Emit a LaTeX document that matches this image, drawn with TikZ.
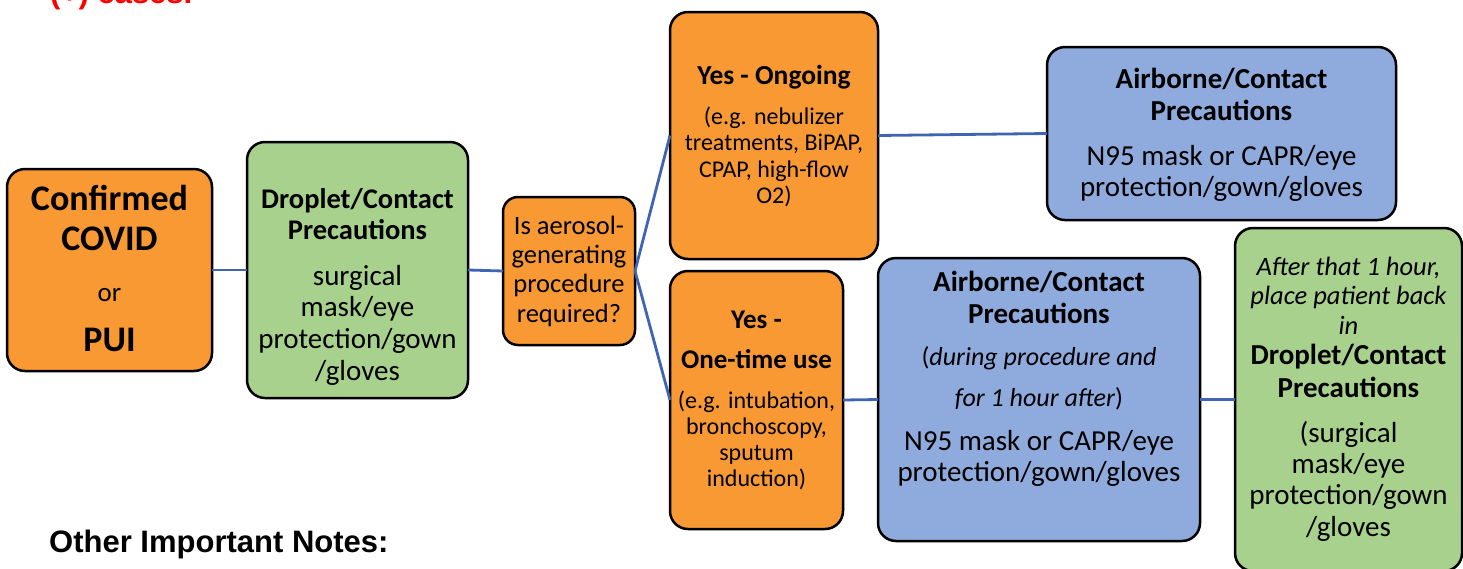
\documentclass[tikz,border=0pt]{standalone}
\usepackage{fontspec}
\setmainfont{Carlito}
\newfontfamily\arialfont{Liberation Sans}
\definecolor{boxorange}{RGB}{248,153,52}
\definecolor{boxgreen}{RGB}{169,209,142}
\definecolor{boxblue}{RGB}{143,170,220}
\definecolor{linkblue}{RGB}{64,100,180}
\definecolor{notered}{RGB}{255,0,0}
\newcommand\boxtext[3]{\fontsize{#1}{#2}\selectfont\begin{tabular}[t]{@{}c@{}}#3\end{tabular}}
\tikzset{
  box/.style={draw=black, line width=2.5pt, rounded corners=18pt, inner sep=0pt, outer sep=0pt},
  orangebox/.style={box, fill=boxorange},
  greenbox/.style={box, fill=boxgreen},
  bluebox/.style={box, fill=boxblue},
  txt/.style={anchor=base, inner sep=0pt, outer sep=0pt},
  link/.style={draw=linkblue, line width=2.8pt},
}
\begin{document}
\begin{tikzpicture}[x=1pt, y=-1pt]
\useasboundingbox (0,0) rectangle (1463,568);
\clip (0,0) rectangle (1463,568);
% boxes
\node[orangebox, minimum width=205pt, minimum height=202pt] (b1) at (109.5,270) {};
\node[greenbox, minimum width=221pt, minimum height=256pt] (b2) at (357.5,270) {};
\node[orangebox, rounded corners=15pt, minimum width=132pt, minimum height=148pt] (q) at (569,271) {};
\node[orangebox, minimum width=208pt, minimum height=247pt] (yo) at (774,135.5) {};
\node[orangebox, minimum width=173pt, minimum height=258pt] (yt) at (756.5,400) {};
\node[bluebox, minimum width=349pt, minimum height=173pt] (bt) at (1221.5,133.5) {};
\node[bluebox, minimum width=322pt, minimum height=283pt] (bb) at (1039,399.5) {};
\node[greenbox, minimum width=227pt, minimum height=343pt] (gr) at (1348.5,399.5) {};
% connectors
\draw[link] (b1.east) -- (b2.west);
\draw[link] (b2.east) -- (q.west);
\draw[link] (q.east) -- (yo.west);
\draw[link] (q.east) -- (yt.west);
\draw[link] (yo.east) -- (bt.west);
\draw[link] (yt.east) -- (bb.west);
\draw[link] (bb.east) -- (gr.west);
% texts
\node[txt, font=\bfseries] (t1a) at (109.5,210) {\boxtext{36}{40.5}{Confirmed\\COVID}};
\node[txt] (t1b) at (109.5,301) {\boxtext{27}{32}{or}};
\node[txt, font=\bfseries] (t1c) at (109.5,351) {\boxtext{36}{40}{PUI}};
\node[txt, font=\bfseries] (t2a) at (357.5,208) {\boxtext{28.5}{31.3}{Droplet/Contact\\Precautions}};
\node[txt] (t2b) at (357.5,285) {\boxtext{29}{31.9}{surgical\\mask/eye\\protection/gown\\/gloves}};
\node[txt] (tq) at (569,234.5) {\boxtext{26.5}{29.2}{Is aerosol-\\generating\\procedure\\required?}};
\node[txt, font=\bfseries] (toa) at (774,84.5) {\boxtext{27.5}{30}{Yes - Ongoing}};
\node[txt] (tob) at (774,124) {\boxtext{24}{26.5}{(e.g. nebulizer\\treatments, BiPAP,\\CPAP, high-flow\\O2)}};
\node[txt, font=\bfseries] (tta) at (756.5,328) {\boxtext{27}{40.5}{Yes -\\One-time use}};
\node[txt] (ttb) at (756.5,408) {\boxtext{24}{26}{(e.g. intubation,\\bronchoscopy,\\sputum\\induction)}};
\node[txt, font=\bfseries] (tba) at (1221.5,88) {\boxtext{29}{32}{Airborne/Contact\\Precautions}};
\node[txt] (tbb) at (1221.5,165) {\boxtext{29}{31}{N95 mask or CAPR/eye\\protection/gown/gloves}};
\node[txt, font=\bfseries] (tca) at (1039,291) {\boxtext{29}{32.5}{Airborne/Contact\\Precautions}};
\node[txt] (tcb) at (1039,365) {\boxtext{26}{41.5}{(\textit{during procedure and}\\\textit{for 1 hour after})}};
\node[txt] (tcc) at (1039,450) {\boxtext{29}{31}{N95 mask or CAPR/eye\\protection/gown/gloves}};
\node[txt, font=\itshape] (tga) at (1348.5,275) {\boxtext{26.5}{29.5}{After that 1 hour,\\place patient back\\in}};
\node[txt, font=\bfseries] (tgb) at (1348.5,364) {\boxtext{29}{33}{Droplet/Contact\\Precautions}};
\node[txt] (tgc) at (1348.5,442) {\boxtext{29}{31.4}{(surgical\\mask/eye\\protection/gown\\/gloves}};
% free texts
\node[anchor=base west, inner sep=0pt, text=notered, font=\arialfont\bfseries\fontsize{31}{36}\selectfont] (cases) at (50,3) {(+) cases.};
\node[anchor=base west, inner sep=0pt, font=\arialfont\bfseries\fontsize{31}{36}\selectfont] (notes) at (49,552) {Other Important Notes:};
\end{tikzpicture}
\end{document}
